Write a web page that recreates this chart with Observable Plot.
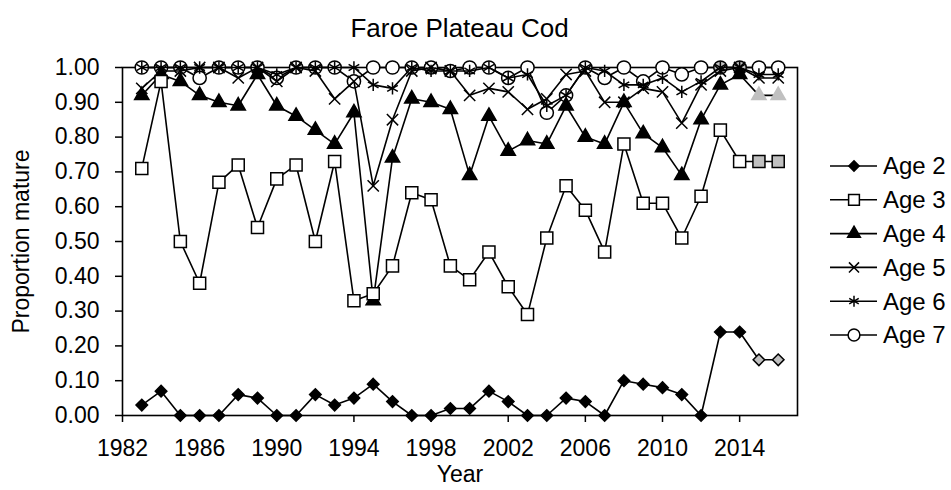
<!DOCTYPE html>
<html>
<head>
<meta charset="utf-8">
<script src="https://cdn.jsdelivr.net/npm/d3@7"></script>
<script src="https://cdn.jsdelivr.net/npm/@observablehq/plot@0.6"></script>
<style>
  body { margin: 0; background: #fff; }
  #wrap { position: relative; width: 951px; height: 490px; font-family: "Liberation Sans", Arial, sans-serif; color: #000; }
  #title { position: absolute; left: 0; top: 15px; width: 919px; text-align: center; font-size: 26px; line-height: 26px; }
  #chart { position: absolute; left: 0; top: 50px; }
  #legend { position: absolute; left: 820px; top: 140px; }
</style>
</head>
<body>
<div id="wrap">
  <div id="title">Faroe Plateau Cod</div>
  <div id="chart"></div>
  <div id="legend"></div>
</div>
<script>
const years = [1983,1984,1985,1986,1987,1988,1989,1990,1991,1992,1993,1994,1995,1996,1997,1998,1999,2000,2001,2002,2003,2004,2005,2006,2007,2008,2009,2010,2011,2012,2013,2014,2015,2016];
const age2 = [0.03,0.07,0.00,0.00,0.00,0.06,0.05,0.00,0.00,0.06,0.03,0.05,0.09,0.04,0.00,0.00,0.02,0.02,0.07,0.04,0.00,0.00,0.05,0.04,0.00,0.10,0.09,0.08,0.06,0.00,0.24,0.24,0.16,0.16];
const age3 = [0.71,0.96,0.50,0.38,0.67,0.72,0.54,0.68,0.72,0.50,0.73,0.33,0.35,0.43,0.64,0.62,0.43,0.39,0.47,0.37,0.29,0.51,0.66,0.59,0.47,0.78,0.61,0.61,0.51,0.63,0.82,0.73,0.73,0.73];
const age4 = [0.92,0.98,0.96,0.92,0.90,0.89,0.98,0.89,0.86,0.82,0.78,0.87,0.33,0.74,0.91,0.90,0.88,0.69,0.86,0.76,0.79,0.78,0.89,0.80,0.78,0.90,0.81,0.77,0.69,0.85,0.95,0.98,0.92,0.92];
const age5 = [0.94,0.99,0.99,1.00,1.00,0.97,1.00,0.96,1.00,0.99,0.91,0.96,0.66,0.85,0.99,1.00,0.99,0.92,0.94,0.93,0.88,0.91,0.98,0.99,0.90,0.90,0.94,0.93,0.84,0.95,0.99,1.00,0.97,0.97];
const age6 = [1.00,1.00,1.00,1.00,1.00,1.00,1.00,0.98,1.00,1.00,1.00,1.00,0.95,0.94,1.00,0.99,0.99,0.99,1.00,0.97,0.98,0.89,0.92,1.00,0.99,0.95,0.95,0.97,0.93,0.96,1.00,1.00,0.98,0.98];
const age7 = [1.00,1.00,1.00,0.97,1.00,1.00,1.00,0.97,1.00,1.00,1.00,0.96,1.00,1.00,1.00,1.00,0.99,1.00,1.00,0.97,1.00,0.87,0.92,1.00,0.97,1.00,0.96,1.00,0.98,1.00,1.00,1.00,1.00,1.00];
// years whose points are shown shaded in the reference
const shadedAge2 = [2015, 2016];
const shadedAge3 = [2015, 2016];
const shadedAge4 = [2015, 2016];
const shadedAge7 = [2013, 2014];
const seriesNames = ["Age 2","Age 3","Age 4","Age 5","Age 6","Age 7"];
const xTicks = [1982,1986,1990,1994,1998,2002,2006,2010,2014];
const yTicks = [0,0.1,0.2,0.3,0.4,0.5,0.6,0.7,0.8,0.9,1.0];
const titleText = "Faroe Plateau Cod";
const xLabel = "Year";
const yLabel = "Proportion mature";

const GREY = "#c0c0c0";
const valuesBySeries = [age2, age3, age4, age5, age6, age7];
const shadedBySeries = [shadedAge2, shadedAge3, shadedAge4, [], [], shadedAge7];
const styles = [
  {symbol: "diamond2", r: 5.2, fill: "black", stroke: "black", shadeStroke: "black"},
  {symbol: "square",   r: 6.8, fill: "white", stroke: "black", shadeStroke: "black"},
  {symbol: "triangle", r: 5.3, fill: "black", stroke: "black", shadeStroke: GREY},
  {symbol: "times",    r: 5.2, fill: "none",  stroke: "black", shadeStroke: "black"},
  {symbol: "asterisk", r: 5.8, fill: "none",  stroke: "black", shadeStroke: "black"},
  {symbol: "circle",   r: 6.6, fill: "white", stroke: "black", shadeStroke: "black"}
];

document.getElementById("title").textContent = titleText;

const series = seriesNames.map((name, i) => ({
  name,
  style: styles[i],
  rows: years.map((year, j) => ({year, value: valuesBySeries[i][j], shaded: shadedBySeries[i].includes(year)}))
}));

// Draw order: last series first (as in the reference, Age 2 on top)
const dataMarks = [];
for (const s of series.slice().reverse()) {
  const st = s.style;
  dataMarks.push(Plot.line(s.rows, {x: "year", y: "value", stroke: "black", strokeWidth: 1.6}));
  dataMarks.push(Plot.dot(s.rows, {
    x: "year", y: "value", symbol: st.symbol, r: st.r,
    fill: d => d.shaded ? GREY : st.fill,
    stroke: d => d.shaded ? st.shadeStroke : st.stroke,
    strokeWidth: 1.5
  }));
}

const chart = Plot.plot({
  width: 951,
  height: 440,
  marginTop: 17,
  marginBottom: 75,
  marginLeft: 122,
  marginRight: 154,
  style: {fontFamily: "'Liberation Sans', Arial, sans-serif", fontSize: "23px", color: "black", background: "white"},
  x: {domain: [1982, 2017]},
  y: {domain: [0, 1]},
  color: {type: "identity"},
  marks: [
    Plot.frame({stroke: "black", strokeWidth: 1.6}),
    Plot.axisY({ticks: yTicks, tickFormat: d3.format(".2f"), tickSize: 7, tickPadding: 16, strokeWidth: 1.5,
      label: yLabel, labelAnchor: "center", labelArrow: "none", labelOffset: 110}),
    Plot.axisX({ticks: xTicks, tickFormat: d => String(d), tickSize: 7, tickPadding: 17, strokeWidth: 1.5,
      label: xLabel, labelAnchor: "center", labelArrow: "none", labelOffset: 66}),
    ...dataMarks
  ]
});
document.getElementById("chart").appendChild(chart);

// Legend
const symbolMap = {diamond2: d3.symbolDiamond2, square: d3.symbolSquare, triangle: d3.symbolTriangle,
  times: d3.symbolTimes, asterisk: d3.symbolAsterisk, circle: d3.symbolCircle};
const rowH = 33.8;
const lg = d3.select("#legend").append("svg")
  .attr("width", 131).attr("height", 220)
  .style("font-family", "'Liberation Sans', Arial, sans-serif").style("font-size", "24px");
series.forEach((s, i) => {
  const cy = 26 + i * rowH;
  const g = lg.append("g").attr("transform", `translate(0,${cy})`);
  g.append("line").attr("x1", 10).attr("x2", 57).attr("y1", 0).attr("y2", 0).attr("stroke", "black").attr("stroke-width", 1.6);
  g.append("path")
    .attr("transform", "translate(34,0)")
    .attr("d", d3.symbol(symbolMap[s.style.symbol], Math.PI * s.style.r * s.style.r * 0.8)())
    .attr("fill", s.style.fill).attr("stroke", s.style.stroke).attr("stroke-width", 1.5);
  g.append("text").attr("x", 63).attr("dy", "0.35em").text(s.name);
});
</script>
</body>
</html>
